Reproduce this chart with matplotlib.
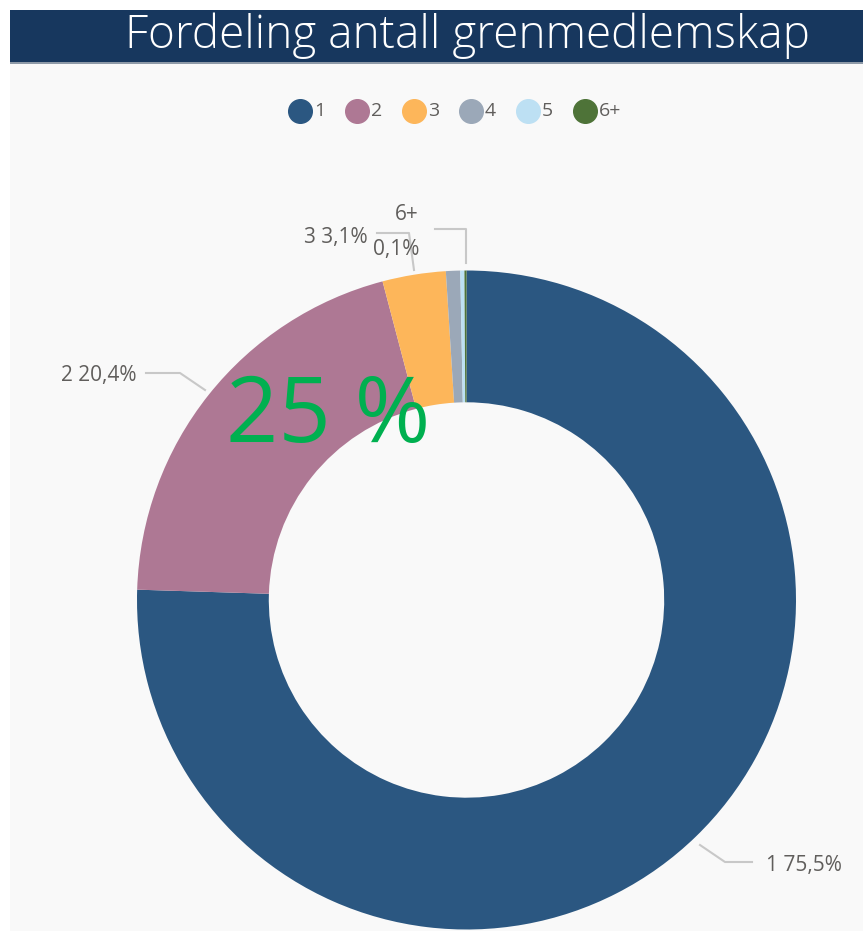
import numpy as np
import matplotlib
matplotlib.use("Agg")
import matplotlib.pyplot as plt
from matplotlib.patches import Rectangle
from matplotlib.lines import Line2D

# data
categories = ["1", "2", "3", "4", "5", "6+"]
shares = [75.5, 20.4, 3.1, 0.7, 0.2, 0.1]
colours = ["#2b5781", "#ae7894", "#fdb65a", "#9ba8b8", "#bde0f3", "#4e7338"]
label_texts = ["1 75,5%", "2 20,4%", "3 3,1%", None, None, "6+\n0,1%"]

W, H = 863, 931
fig = plt.figure(figsize=(W / 100, H / 100), dpi=100)
fig.patch.set_facecolor("white")

# plot background and title bar
fig.patches.append(Rectangle((10 / W, 0), 1, (H - 62) / H, transform=fig.transFigure,
                             facecolor="#f9f9f9", edgecolor="none", zorder=-2))
fig.patches.append(Rectangle((10 / W, (H - 64) / H), 1, 3 / H, transform=fig.transFigure,
                             facecolor="#8e9aa8", edgecolor="none", zorder=-2))
fig.patches.append(Rectangle((10 / W, (H - 62) / H), 1, 52 / H, transform=fig.transFigure,
                             facecolor="#17375e", edgecolor="none", zorder=-2))
fig.text(467 / W, 1 - 36 / H, "Fordeling antall grenmedlemskap", color="white",
         fontsize=33, ha="center", va="center", family="Open Sans", fontweight="light")

# pie axes, center (466.5, 600) px, radius 329.5 px
cx, cy, R = 466.5, 600, 329.5
ax = fig.add_axes([(cx - R) / W, (H - cy - R) / H, 2 * R / W, 2 * R / H], zorder=1)

wedges, _ = ax.pie(shares, colors=colours, startangle=90, counterclock=False,
                   radius=1, wedgeprops=dict(width=0.4, edgecolor="none"))
ax.set_xlim(-1, 1)
ax.set_ylim(-1, 1)
ax.set_aspect("equal")
ax.axis("off")

def d(px, py):
    return ((px - cx) / R, (cy - py) / R)

line_c = "#c8c8c8"
txt = "#605e5c"
lab_fs = 15

# leader lines and labels
ax.plot(*zip(d(700, 845), d(725, 862), d(752, 862)), color=line_c, lw=1.5, clip_on=False)
ax.text(*d(766, 866), label_texts[0], color=txt, fontsize=lab_fs, ha="left", va="center",
        family="Open Sans")
ax.plot(*zip(d(205, 390), d(180, 373), d(146, 373)), color=line_c, lw=1.5, clip_on=False)
ax.text(*d(136, 376), label_texts[1], color=txt, fontsize=lab_fs, ha="right", va="center",
        family="Open Sans")
ax.plot(*zip(d(377, 233), d(409, 233), d(414, 270)), color=line_c, lw=1.5, clip_on=False)
ax.text(*d(368, 238), label_texts[2], color=txt, fontsize=lab_fs, ha="right", va="center",
        family="Open Sans")
ax.plot(*zip(d(435, 229), d(466, 229), d(466, 263)), color=line_c, lw=1.5, clip_on=False)
ax.text(*d(407, 214), "6+", color=txt, fontsize=lab_fs, ha="center", va="center",
        family="Open Sans")
ax.text(*d(396, 249), "0,1%", color=txt, fontsize=lab_fs, ha="center", va="center",
        family="Open Sans")

# legend
lx = 300
for cat, col in zip(categories, colours):
    fig.lines.append(Line2D([lx / W], [1 - 111 / H], marker="o", markersize=17,
                            color=col, transform=fig.transFigure))
    fig.text((lx + 14) / W, 1 - 111 / H, cat, color=txt, fontsize=14, ha="left",
             va="center", family="Open Sans")
    lx += 57

# overlay text
fig.text(328 / W, 1 - 418 / H, "25 %", color="#00b050", fontsize=66, ha="center",
         va="center", family="Open Sans", zorder=5)

fig.savefig("out.png", dpi=100)
